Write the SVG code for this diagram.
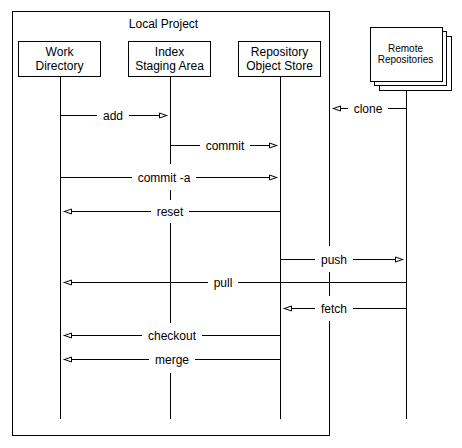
<svg xmlns="http://www.w3.org/2000/svg" width="462" height="448" viewBox="0 0 462 448">
<style>
text{font-family:"Liberation Sans",Arial,Helvetica,sans-serif;font-size:12px;fill:#000;text-anchor:middle}
.box{fill:#fff;stroke:#000;stroke-width:1}
.life{stroke:#000;stroke-width:1;fill:none}
.msg{stroke:#000;stroke-width:1;fill:none;marker-end:url(#open)}
.lbg{fill:#fff;stroke:none}
.small{font-size:10px}
</style>
<defs>
<marker id="open" markerUnits="userSpaceOnUse" markerWidth="10" markerHeight="8" refX="8" refY="3.5" orient="auto" viewBox="-1 -1 10 8">
<path d="M0,1 L7,3.5 L0,6 Z" fill="#fff" stroke="#000" stroke-width="1"/>
</marker>
</defs>
<rect width="462" height="448" fill="#fff"/>
<g id="local-project">
<rect class="box" x="12.5" y="11.5" width="317" height="424"/>
<text x="163.5" y="28">Local Project</text>
</g>
<g id="lifelines">
<line class="life" x1="60.5" y1="76.5" x2="60.5" y2="419"/>
<line class="life" x1="170.5" y1="76.5" x2="170.5" y2="419"/>
<line class="life" x1="280.5" y1="76.5" x2="280.5" y2="419"/>
<line class="life" x1="406.5" y1="90.5" x2="406.5" y2="419"/>
</g>
<g id="work-directory">
<rect class="box" x="18.5" y="41.5" width="82" height="35"/>
<text x="59.5" y="56">Work</text>
<text x="59.5" y="70">Directory</text>
</g>
<g id="index">
<rect class="box" x="128.5" y="41.5" width="82" height="35"/>
<text x="169.5" y="56">Index</text>
<text x="169.5" y="70">Staging Area</text>
</g>
<g id="repository">
<rect class="box" x="238.5" y="41.5" width="82" height="35"/>
<text x="279.5" y="56">Repository</text>
<text x="279.5" y="70">Object Store</text>
</g>
<g id="remote">
<rect class="box" x="379.5" y="36.5" width="72" height="54"/>
<rect class="box" x="374.5" y="31.5" width="72" height="54"/>
<rect class="box" x="370.5" y="27.5" width="72" height="54"/>
<text class="small" x="405.5" y="51.5">Remote</text>
<text class="small" x="405.5" y="63">Repositories</text>
</g>
<g id="connectors">
<g id="add">
<line class="msg" x1="60.5" y1="115.5" x2="167.5" y2="115.5"/>
<rect class="lbg" x="97" y="104" width="32" height="23"/>
<text x="113" y="119.5">add</text>
</g>
<g id="clone">
<line class="msg" x1="406.5" y1="108.5" x2="332.5" y2="108.5"/>
<rect class="lbg" x="348" y="97" width="40" height="23"/>
<text x="368" y="112.5">clone</text>
</g>
<g id="commit">
<line class="msg" x1="170.5" y1="145.5" x2="277.5" y2="145.5"/>
<rect class="lbg" x="200" y="134" width="50" height="23"/>
<text x="225" y="149.5">commit</text>
</g>
<g id="commit-a">
<line class="msg" x1="60.5" y1="177.5" x2="277.5" y2="177.5"/>
<rect class="lbg" x="132" y="164" width="64" height="26"/>
<text x="164" y="181.5">commit -a</text>
</g>
<g id="reset">
<line class="msg" x1="280.5" y1="211.5" x2="63.5" y2="211.5"/>
<rect class="lbg" x="151" y="200" width="38" height="23"/>
<text x="170" y="215.5">reset</text>
</g>
<g id="push">
<line class="msg" x1="280.5" y1="259.5" x2="403.5" y2="259.5"/>
<rect class="lbg" x="315" y="246" width="38" height="26"/>
<text x="334" y="263.5">push</text>
</g>
<g id="pull">
<line class="msg" x1="406.5" y1="282.5" x2="63.5" y2="282.5"/>
<rect class="lbg" x="208" y="271" width="30" height="23"/>
<text x="223" y="286.5">pull</text>
</g>
<g id="fetch">
<line class="msg" x1="406.5" y1="308.5" x2="283.5" y2="308.5"/>
<rect class="lbg" x="315" y="296" width="38" height="25"/>
<text x="334" y="312.5">fetch</text>
</g>
<g id="checkout">
<line class="msg" x1="280.5" y1="335.5" x2="63.5" y2="335.5"/>
<rect class="lbg" x="142" y="323" width="60" height="24"/>
<text x="172" y="339.5">checkout</text>
</g>
<g id="merge">
<line class="msg" x1="280.5" y1="359.5" x2="63.5" y2="359.5"/>
<rect class="lbg" x="149" y="347" width="46" height="26"/>
<text x="172" y="363.5">merge</text>
</g>
</g>
</svg>
